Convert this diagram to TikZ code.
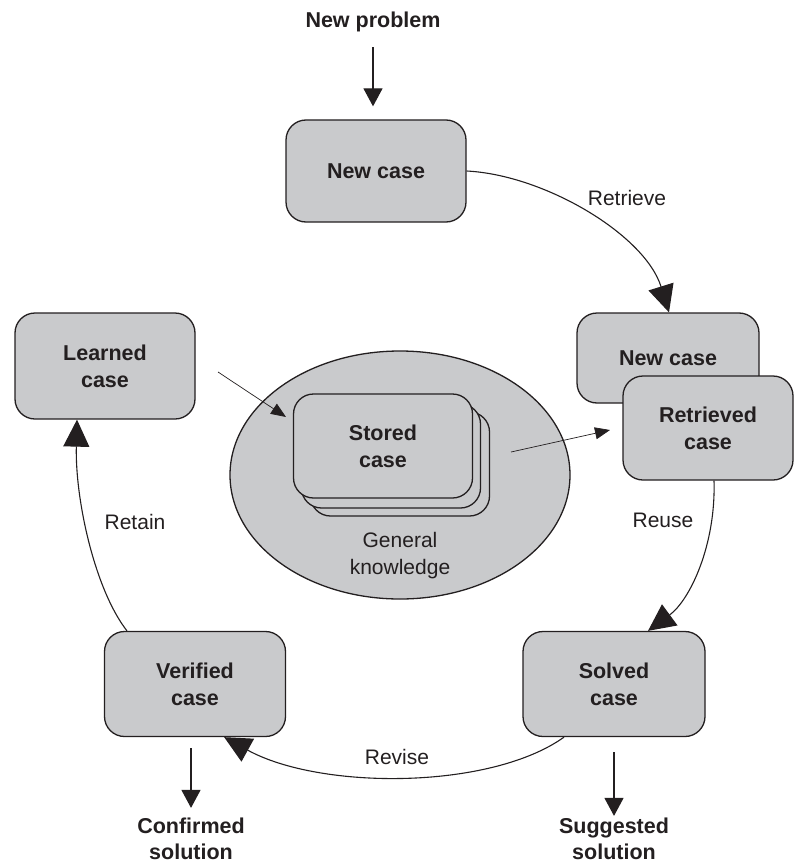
\documentclass[tikz,border=0pt]{standalone}
\usepackage{fontspec}
\setmainfont{Liberation Sans}
\usetikzlibrary{arrows.meta,shapes.geometric}
\definecolor{casegray}{RGB}{201,202,204}
\definecolor{inkblack}{RGB}{35,31,32}

\begin{document}
\begin{tikzpicture}[x=1pt,y=-1pt,inkblack,
  casebox/.style={draw=inkblack,fill=casegray,line width=1.3pt,rounded corners=20pt,align=center,inner sep=2pt,font=\fontsize{21.5}{27}\selectfont\bfseries},
  labeltext/.style={align=center,inner sep=2pt,font=\fontsize{21}{27}\selectfont},
  boldtext/.style={align=center,inner sep=2pt,font=\fontsize{21.5}{26}\selectfont\bfseries},
  looparrow/.style={line width=1.1pt,-{Triangle[length=27pt,width=26pt]}},
  feedarrow/.style={line width=0.7pt,-{Triangle[length=15pt,width=12pt]}},
  outarrow/.style={line width=1.3pt,-{Triangle[length=18pt,width=19pt]}}]
\useasboundingbox (0,0) rectangle (794,864);
\node[ellipse,draw=inkblack,fill=casegray,line width=1.3pt,minimum width=340pt,minimum height=248pt] (Knowledge) at (400,475) {};
\node[casebox,minimum width=179pt,minimum height=104pt] (StoredC) at (400,464) {};
\node[casebox,minimum width=179pt,minimum height=104pt] (StoredB) at (391,456) {};
\node[casebox,minimum width=179pt,minimum height=104pt] (Stored) at (383,446) {Stored\\case};
\node[labeltext] (GenKnow) at (400,556) {General\\knowledge};

\node[boldtext] (Problem) at (373,22) {New problem};
\node[casebox,minimum width=180pt,minimum height=102pt] (NewCase) at (376,171) {New case};
\node[casebox,minimum width=182pt,minimum height=90pt] (NewCaseB) at (668,358) {New case};
\node[casebox,minimum width=170pt,minimum height=104pt] (Retrieved) at (708,428) {Retrieved\\case};
\node[casebox,minimum width=180pt,minimum height=106pt] (Learned) at (105,366) {Learned\\case};
\node[casebox,minimum width=182pt,minimum height=105pt] (Solved) at (614,684) {Solved\\case};
\node[casebox,minimum width=181pt,minimum height=105pt] (Verified) at (195,684) {Verified\\case};
\node[boldtext] (Suggested) at (614,839) {Suggested\\solution};
\node[boldtext] (Confirmed) at (191,839) {Confirmed\\solution};

\node[labeltext] (RetrieveLbl) at (627,198) {Retrieve};
\node[labeltext] (ReuseLbl) at (663,520) {Reuse};
\node[labeltext] (ReviseLbl) at (397,757) {Revise};
\node[labeltext] (RetainLbl) at (135,522) {Retain};

\coordinate (LearnOut) at (218,372);
\coordinate (StoreIn) at (286,417);
\coordinate (StoreOut) at (511,452);
\coordinate (RetrIn) at (610,430);

\draw[outarrow,shorten <=13pt,shorten >=13pt] (Problem) -- (Problem |- NewCase.north);
\draw[outarrow,shorten <=15pt] (Solved.south -| Suggested) -- (Suggested);
\draw[outarrow,shorten <=11pt,shorten >=8pt] (Verified.south -| Confirmed) -- (Confirmed);
\draw[looparrow] (NewCase.east) .. controls (545,175) and (645,235) .. ([xshift=1pt]NewCaseB.north);
\draw[looparrow] ([xshift=6pt]Retrieved.south) .. controls (716,545) and (690,600) .. ([xshift=34pt]Solved.north);
\draw[looparrow] ([xshift=-50pt]Solved.south) .. controls (490,790) and (320,790) .. ([xshift=-62pt]Verified.south east);
\draw[looparrow] ([xshift=-68pt]Verified.north) .. controls (95,590) and (75,500) .. ([xshift=-28pt]Learned.south);
\draw[feedarrow] (LearnOut) -- (StoreIn);
\draw[feedarrow] (StoreOut) -- (RetrIn);
\end{tikzpicture}
\end{document}
